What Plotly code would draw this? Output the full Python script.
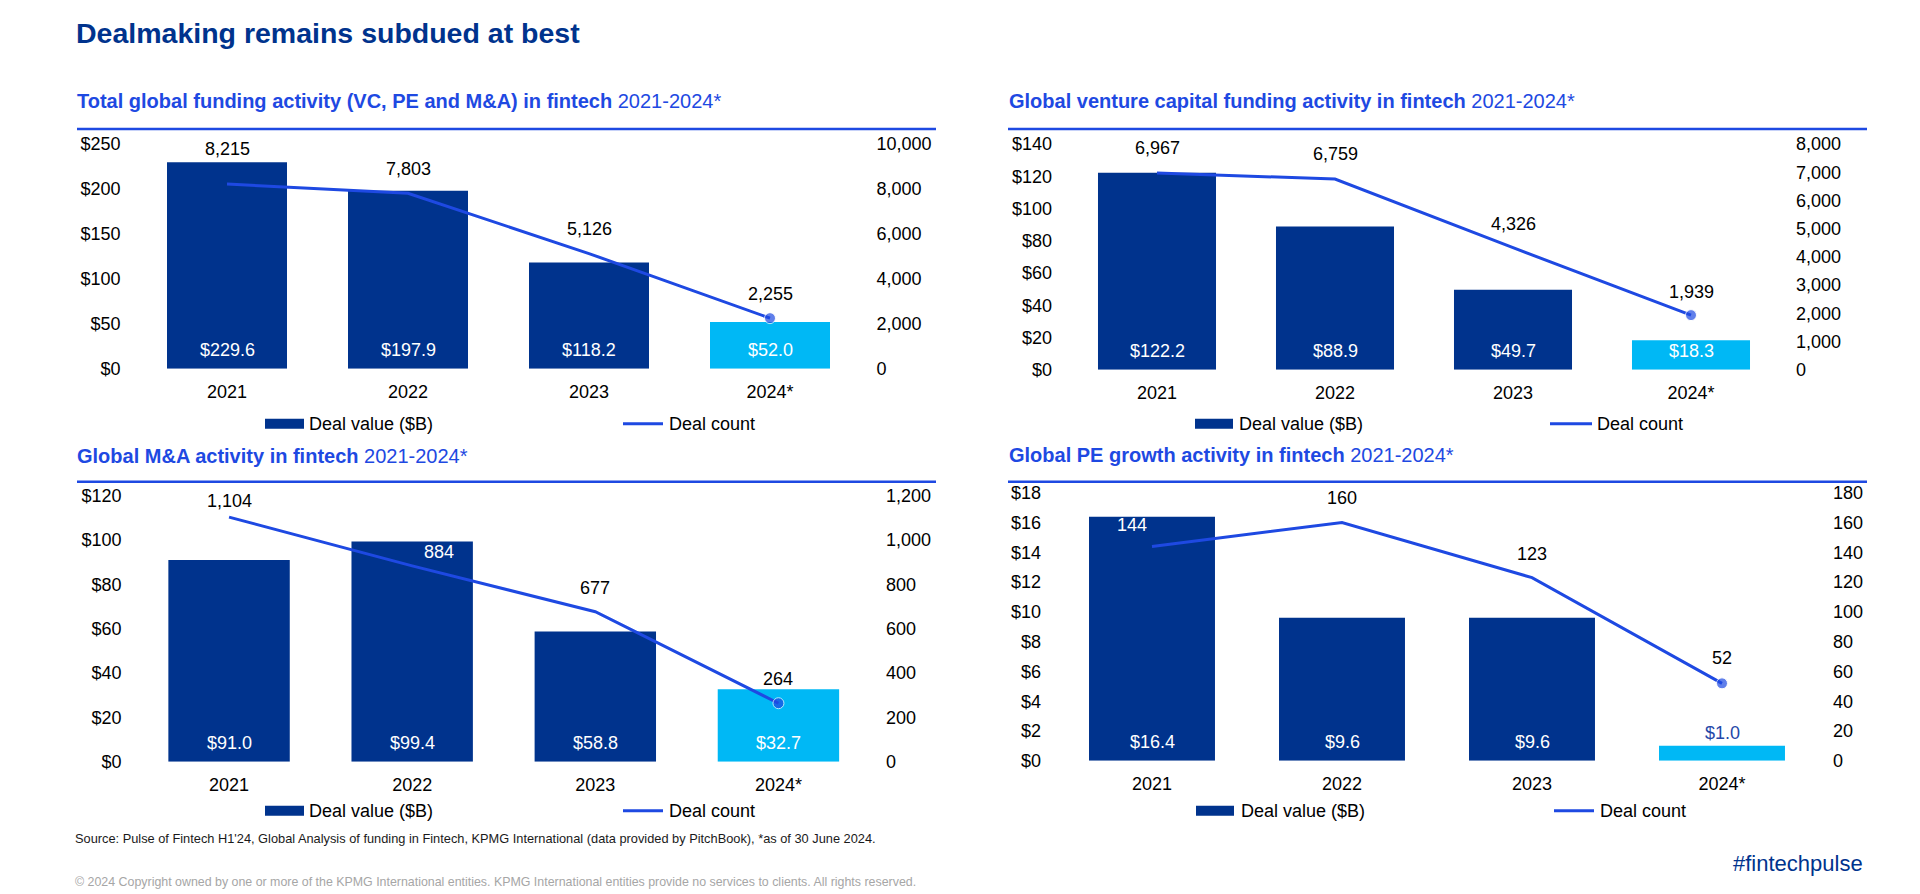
import plotly.graph_objects as go

# ---------------- data ----------------
years = ["2021", "2022", "2023", "2024*"]

total_value = [229.6, 197.9, 118.2, 52.0]
total_count = [8215, 7803, 5126, 2255]

vc_value = [122.2, 88.9, 49.7, 18.3]
vc_count = [6967, 6759, 4326, 1939]

ma_value = [91.0, 99.4, 58.8, 32.7]
ma_count = [1104, 884, 677, 264]

pe_value = [16.4, 9.6, 9.6, 1.0]
pe_count = [144, 160, 123, 52]

left_ticks_total = [0, 50, 100, 150, 200, 250]
right_ticks_total = [0, 2000, 4000, 6000, 8000, 10000]
left_ticks_vc = [0, 20, 40, 60, 80, 100, 120, 140]
right_ticks_vc = [0, 1000, 2000, 3000, 4000, 5000, 6000, 7000, 8000]
left_ticks_ma = [0, 20, 40, 60, 80, 100, 120]
right_ticks_ma = [0, 200, 400, 600, 800, 1000, 1200]
left_ticks_pe = [0, 2, 4, 6, 8, 10, 12, 14, 16, 18]
right_ticks_pe = [0, 20, 40, 60, 80, 100, 120, 140, 160, 180]

titles = [
    ("Total global funding activity (VC, PE and M&A) in fintech", "2021-2024*"),
    ("Global venture capital funding activity in fintech", "2021-2024*"),
    ("Global M&A activity in fintech", "2021-2024*"),
    ("Global PE growth activity in fintech", "2021-2024*"),
]
legend_bar_name = "Deal value ($B)"
legend_line_name = "Deal count"

# ---------------- style ----------------
X_OFF = 8                 # horizontal page offset
V_OFF, V_SCALE = 17, 0.978  # vertical screen calibration
W, H = 1904, 894
FONT = "Arial, 'Liberation Sans', sans-serif"
NAVY = "#00338D"
LIGHT = "#00B8F5"
LINE = "#1E49E2"
DARKBLUE = "#2447A8"


def px_x(v):
    return (v - X_OFF) / W


def px_y(v):
    return 1 - ((v - V_OFF) / V_SCALE) / H


# panel geometry in screen pixels: (x0, x1, ytop, ybottom)
panels = [
    dict(values=total_value, counts=total_count, lt=left_ticks_total, rt=right_ticks_total,
         geom=(136.5, 860.5, 143, 368), title_xy=(75, 100), rule=(77, 936, 128),
         leg=(265, 304, 307, 623, 663, 667, 423),
         cshift=[35, 24, 25, 24], cdx=[0, 0, 0, 0], ccol=["black"] * 4),
    dict(values=vc_value, counts=vc_count, lt=left_ticks_vc, rt=right_ticks_vc,
         geom=(1068, 1780, 143, 369), title_xy=(1007, 100), rule=(1008, 1867, 128),
         leg=(1195, 1233, 1237, 1550, 1592, 1595, 423),
         cshift=[25, 25, 24, 23], cdx=[0, 0, 0, 0], ccol=["black"] * 4),
    dict(values=ma_value, counts=ma_count, lt=left_ticks_ma, rt=right_ticks_ma,
         geom=(137.5, 870, 495, 761), title_xy=(75, 455), rule=(77, 936, 481),
         leg=(265, 304, 307, 623, 663, 667, 810),
         cshift=[16, 14, 24, 24], cdx=[0, 27, 0, 0], ccol=["black", "white", "black", "black"]),
    dict(values=pe_value, counts=pe_count, lt=left_ticks_pe, rt=right_ticks_pe,
         geom=(1057, 1817, 492, 760), title_xy=(1007, 454), rule=(1008, 1867, 481),
         leg=(1196, 1234, 1239, 1554, 1594, 1598, 810),
         cshift=[21, 25, 24, 25], cdx=[-20, 0, 0, 0], ccol=["white", "black", "black", "black"]),
]

fig = go.Figure()
annotations = []
shapes = []
layout_axes = {}

for i, p in enumerate(panels):
    n = i + 1
    xname = "x" if n == 1 else f"x{n}"
    yl = 2 * n - 1
    yr = 2 * n
    ylname = "y" if yl == 1 else f"y{yl}"
    yrname = f"y{yr}"
    x0, x1, yt, yb = p["geom"]
    xdom = [px_x(x0), px_x(x1)]
    ydom = [px_y(yb), px_y(yt)]
    lmax = p["lt"][-1]
    rmax = p["rt"][-1]

    bar_colors = [NAVY, NAVY, NAVY, LIGHT]
    fig.add_trace(go.Bar(
        x=years, y=p["values"], xaxis=xname, yaxis=ylname,
        marker=dict(color=bar_colors, line=dict(width=0)),
        width=0.663, showlegend=False, name=legend_bar_name,
    ))
    fig.add_trace(go.Scatter(
        x=years, y=p["counts"], xaxis=xname, yaxis=yrname,
        mode="lines+markers",
        line=dict(color=LINE, width=3),
        marker=dict(color=LINE, size=[0, 0, 0, 11]),
        showlegend=False, name=legend_line_name,
    ))

    xkey = "xaxis" if n == 1 else f"xaxis{n}"
    ylkey = "yaxis" if yl == 1 else f"yaxis{yl}"
    yrkey = f"yaxis{yr}"
    layout_axes[xkey] = dict(
        domain=xdom, anchor=ylname, type="category", range=[-0.5, 3.5],
        showgrid=False, zeroline=False, showline=False, ticks="",
        tickfont=dict(size=18, color="black", family=FONT),
        ticklabelstandoff=10, fixedrange=True,
    )
    layout_axes[ylkey] = dict(
        domain=ydom, anchor=xname, range=[0, lmax], tickmode="array",
        tickvals=p["lt"], ticktext=[f"${v:,}" for v in p["lt"]],
        showgrid=False, zeroline=False,
        showline=False, ticks="", ticklabelstandoff=15,
        tickfont=dict(size=18, color="black", family=FONT), fixedrange=True,
    )
    layout_axes[yrkey] = dict(
        domain=ydom, anchor=xname, overlaying=ylname, side="right",
        range=[0, rmax], tickmode="array", tickvals=p["rt"],
        ticktext=[f"{v:,}" for v in p["rt"]], showgrid=False,
        zeroline=False, showline=False, ticks="", ticklabelstandoff=15,
        tickfont=dict(size=18, color="black", family=FONT), fixedrange=True,
    )

    # bar value labels
    plot_h = yb - yt
    for j, v in enumerate(p["values"]):
        bar_px = v / lmax * plot_h
        label = f"${v:.1f}"
        if bar_px > 25:
            annotations.append(dict(
                x=j, y=0, xref=xname, yref=ylname, text=label,
                showarrow=False, yanchor="middle", yshift=19,
                font=dict(size=18, color="white", family=FONT)))
        else:
            annotations.append(dict(
                x=j, y=v, xref=xname, yref=ylname, text=label,
                showarrow=False, yanchor="middle", yshift=13,
                font=dict(size=18, color=DARKBLUE, family=FONT)))

    # deal count labels
    for j, c in enumerate(p["counts"]):
        annotations.append(dict(
            x=j, y=c, xref=xname, yref=yrname, text=f"{c:,}",
            showarrow=False, yanchor="middle", yshift=p["cshift"][j],
            xshift=p["cdx"][j],
            font=dict(size=18, color=p["ccol"][j], family=FONT)))

    # panel title
    tb, tr = titles[i]
    tx, ty = p["title_xy"]
    annotations.append(dict(
        x=px_x(tx), y=px_y(ty), xref="paper", yref="paper", xanchor="left",
        yanchor="middle", showarrow=False, text=f"<b>{tb}</b> {tr}",
        font=dict(size=20, color=LINE, family=FONT)))

    # rule under title
    rx0, rx1, ry = p["rule"]
    shapes.append(dict(type="line", xref="paper", yref="paper",
                       x0=px_x(rx0), x1=px_x(rx1), y0=px_y(ry), y1=px_y(ry),
                       line=dict(color=LINE, width=2.5)))

    # legend
    bx0, bx1, btx, lx0, lx1, ltx, ly = p["leg"]
    shapes.append(dict(type="rect", xref="paper", yref="paper",
                       x0=px_x(bx0), x1=px_x(bx1), y0=px_y(ly + 5), y1=px_y(ly - 5),
                       fillcolor=NAVY, line=dict(width=0)))
    shapes.append(dict(type="line", xref="paper", yref="paper",
                       x0=px_x(lx0), x1=px_x(lx1), y0=px_y(ly), y1=px_y(ly),
                       line=dict(color=LINE, width=3)))
    annotations.append(dict(x=px_x(btx), y=px_y(ly), xref="paper", yref="paper",
                            xanchor="left", yanchor="middle", showarrow=False,
                            text=legend_bar_name,
                            font=dict(size=18, color="black", family=FONT)))
    annotations.append(dict(x=px_x(ltx), y=px_y(ly), xref="paper", yref="paper",
                            xanchor="left", yanchor="middle", showarrow=False,
                            text=legend_line_name,
                            font=dict(size=18, color="black", family=FONT)))

# page title and footers
annotations.append(dict(
    x=px_x(74), y=px_y(32), xref="paper", yref="paper", xanchor="left",
    yanchor="middle", showarrow=False, text="<b>Dealmaking remains subdued at best</b>",
    font=dict(size=28.5, color=NAVY, family=FONT)))
annotations.append(dict(
    x=px_x(73), y=px_y(838), xref="paper", yref="paper", xanchor="left",
    yanchor="middle", showarrow=False,
    text="Source: Pulse of Fintech H1'24, Global Analysis of funding in Fintech, KPMG International (data provided by PitchBook), *as of 30 June 2024.",
    font=dict(size=12.8, color="#1a1a1a", family=FONT)))
annotations.append(dict(
    x=px_x(73), y=px_y(881), xref="paper", yref="paper", xanchor="left",
    yanchor="middle", showarrow=False,
    text="© 2024 Copyright owned by one or more of the KPMG International entities. KPMG International entities provide no services to clients. All rights reserved.",
    font=dict(size=12.4, color="#A6A6A6", family=FONT)))
annotations.append(dict(
    x=px_x(1865), y=px_y(863), xref="paper", yref="paper", xanchor="right",
    yanchor="middle", showarrow=False, text="#fintechpulse",
    font=dict(size=22, color=NAVY, family=FONT)))

fig.update_layout(
    width=W, height=H,
    margin=dict(l=0, r=0, t=0, b=0),
    paper_bgcolor="white", plot_bgcolor="white",
    font=dict(family=FONT, color="black"),
    showlegend=False,
    annotations=annotations, shapes=shapes,
    **layout_axes,
)

fig.write_html("out.html", config={"displayModeBar": False})
